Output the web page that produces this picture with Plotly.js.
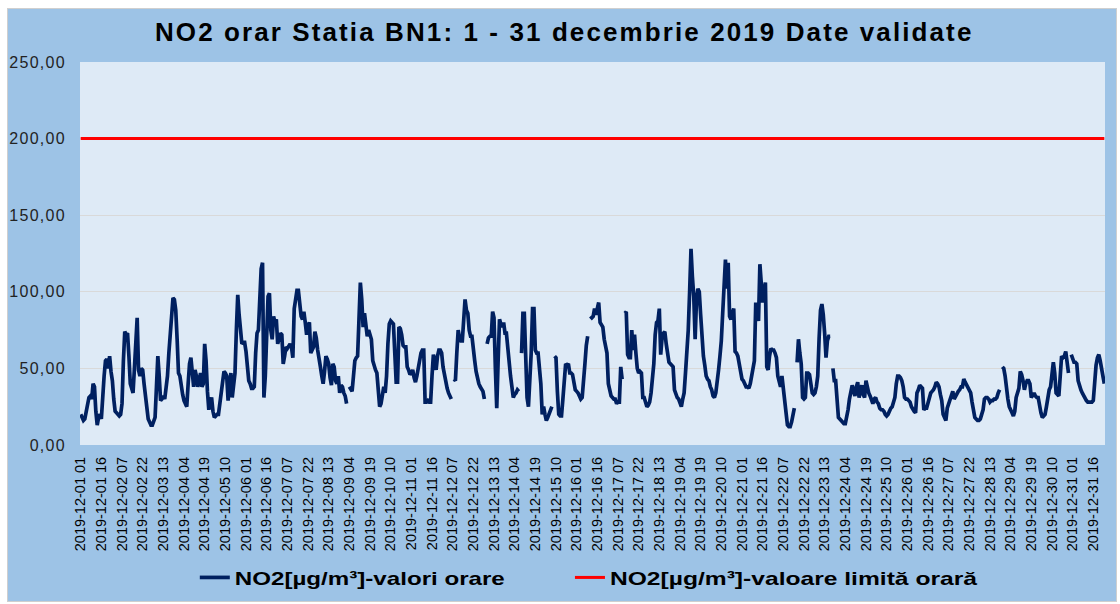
<!DOCTYPE html>
<html><head><meta charset="utf-8">
<script src="https://cdn.plot.ly/plotly-3.0.1.min.js"></script>
<style>
html,body{margin:0;padding:0;background:#fff;width:1120px;height:604px;overflow:hidden}
#chart{position:absolute;left:7px;top:8px;width:1110px;height:594px;border:1px solid #cfcfcf;box-sizing:border-box}
#chart .gtitle{letter-spacing:2.1px}
#chart .ytick text{letter-spacing:1.3px}
</style></head><body><div id="chart"></div>
<script>
// Hourly NO2 values, µg/m³ (null = missing hour)
const dec01 = [20,18,16,17,22,28,31,32,30,40,38,22,13,18,20,17,37,45,55,56,50,58,48,42];
const dec02 = [30,22,21,20,19,20,27,55,74,72,73,58,40,37,34,50,71,83,49,45,50,49,40,31];
const dec03 = [24,17,15,13,13,15,18,38,58,45,29,30,32,30,36,45,60,75,90,96,95,88,69,47];
const dec04 = [45,36,33,29,27,25,40,53,57,48,38,49,45,38,42,47,38,40,66,55,35,23,28,31];
const dec05 = [22,18,19,20,20,27,34,42,48,47,45,29,40,47,31,40,47,75,98,85,73,66,67,67];
const dec06 = [61,52,42,40,37,37,38,60,73,75,100,115,119,31,45,70,97,99,75,69,84,80,82,66];
const dec07 = [70,73,72,53,58,64,63,65,66,64,57,89,95,101,101,90,84,82,87,80,72,78,80,60];
const dec08 = [62,64,74,70,62,54,51,45,40,48,58,56,53,44,39,53,51,42,40,45,34,39,38,34];
const dec09 = [32,27,null,38,36,35,45,55,57,58,82,106,95,77,86,80,71,75,72,69,55,51,49,47];
const dec10 = [38,25,27,33,38,34,45,66,79,81,80,79,60,41,41,77,76,72,65,64,64,51,49,46];
const dec11 = [47,49,44,41,45,49,55,60,62,62,28,28,29,28,28,45,59,55,49,58,62,62,60,51];
const dec12 = [45,40,37,34,32,30,null,43,42,60,75,70,68,68,85,95,88,86,75,71,71,65,55,48];
const dec13 = [42,40,38,36,35,30,null,66,70,71,71,87,83,50,24,55,82,79,77,80,73,73,62,55];
const dec14 = [45,38,31,33,34,36,35,null,60,86,86,60,31,25,40,60,89,89,62,60,60,48,40,20];
const dec15 = [25,20,16,18,21,23,25,null,58,57,35,20,19,19,30,42,53,52,53,47,47,46,40,36];
const dec16 = [35,34,32,30,31,40,53,65,71,null,84,83,84,89,85,88,93,80,78,77,69,65,60,40];
const dec17 = [34,32,31,30,30,27,28,28,51,43,null,86,87,59,57,57,75,62,72,60,50,47,48,47];
const dec18 = [31,31,28,25,26,28,34,44,53,72,80,81,89,59,70,73,74,66,57,54,53,52,51,36];
const dec19 = [33,31,30,28,25,30,34,47,60,75,100,128,110,97,69,95,102,100,85,69,58,52,45,43];
const dec20 = [42,38,36,32,31,34,40,49,58,68,86,105,121,102,119,84,82,86,89,61,60,58,52,49];
const dec21 = [43,42,40,38,38,37,40,45,50,55,93,88,81,118,105,93,100,106,51,49,58,63,62,62];
const dec22 = [60,57,45,41,38,45,38,28,20,13,12,12,15,21,24,null,54,69,60,53,31,30,31,47];
const dec23 = [47,46,40,34,33,34,38,45,70,88,92,85,73,57,68,71,71,null,50,42,42,25,18,17];
const dec24 = [16,15,14,14,18,23,30,34,39,35,32,38,41,31,35,39,33,31,42,36,34,32,29,27];
const dec25 = [30,31,28,27,24,23,23,22,20,19,20,23,24,25,28,31,40,45,45,44,42,38,31,30];
const dec26 = [30,29,28,25,23,22,21,34,36,39,38,37,23,24,24,28,31,34,35,36,38,41,40,38];
const dec27 = [33,29,20,17,16,24,27,31,33,35,30,32,34,35,36,38,38,43,41,39,37,36,34,28];
const dec28 = [23,18,17,16,16,17,20,23,30,31,31,30,28,29,29,30,30,31,34,36,null,51,50,45];
const dec29 = [36,30,25,22,21,19,22,31,34,37,48,46,42,36,40,42,42,40,31,33,34,32,31,31];
const dec30 = [24,21,18,19,20,25,32,36,38,49,54,47,34,33,32,45,58,57,58,61,55,47,null,59];
const dec31 = [56,54,54,53,42,38,36,34,32,30,29,28,28,28,28,29,45,52,57,59,55,51,45,40];

const limitValue = 200;   // NO2 hourly limit value
const labelStep = 15;     // one x label every 15 hours
const seriesNames = ['NO2[µg/m³]-valori orare', 'NO2[µg/m³]-valoare limită orară'];

const days = [dec01,dec02,dec03,dec04,dec05,dec06,dec07,dec08,dec09,dec10,dec11,dec12,dec13,dec14,dec15,dec16,
              dec17,dec18,dec19,dec20,dec21,dec22,dec23,dec24,dec25,dec26,dec27,dec28,dec29,dec30,dec31];

const categories = [];
const values = [];
days.forEach((arr, d) => {
  const dd = String(d + 1).padStart(2, '0');
  arr.forEach((v, h) => {
    categories.push('2019-12-' + dd + ' ' + String(h + 1).padStart(2, '0'));
    values.push(v);
  });
});
const tickLabels = categories.filter((c, i) => i % labelStep === 0);

const FONT = 'Liberation Sans, Arial, sans-serif';
const legendFont = {family: FONT, size: 18.5, weight: 'bold', color: '#000'};

const traces = [
  {
    name: seriesNames[0],
    x: categories, y: values, type: 'scatter', mode: 'lines',
    connectgaps: false,
    line: {color: '#002060', width: 3.7},
    legend: 'legend'
  },
  {
    name: seriesNames[1],
    x: [categories[0], categories[categories.length - 1]],
    y: [limitValue, limitValue], type: 'scatter', mode: 'lines',
    line: {color: '#FF0000', width: 3},
    legend: 'legend2'
  }
];

const layout = {
  width: 1108, height: 592,
  margin: {l: 72, r: 11, t: 53, b: 156, autoexpand: false},
  paper_bgcolor: '#9DC3E6',
  plot_bgcolor: '#DEEAF6',
  separators: ',.',
  font: {family: FONT, color: '#000'},
  title: {
    text: 'NO2 orar Statia BN1: 1 - 31 decembrie 2019 Date validate',
    font: {family: FONT, size: 26, weight: 'bold', color: '#000'},
    xref: 'container', x: 0.502, xanchor: 'center',
    yref: 'container', y: 0.961, yanchor: 'middle'
  },
  xaxis: {
    type: 'category',
    range: [-0.5, categories.length - 0.5],
    tickmode: 'array', tickvals: tickLabels, ticktext: tickLabels,
    tickangle: -90,
    tickfont: {family: FONT, size: 14.5, color: '#000'},
    showgrid: false, zeroline: false, showline: false, ticks: '',
    ticklabelstandoff: 8,
    fixedrange: true
  },
  yaxis: {
    range: [0, 250], dtick: 50, tickformat: '.2f',
    tickfont: {family: FONT, size: 16, color: '#222'},
    gridcolor: '#D9D9D9', gridwidth: 1,
    zeroline: false, showline: false, ticks: '',
    ticklabelstandoff: 13,
    fixedrange: true
  },
  showlegend: true,
  legend: {
    orientation: 'h',
    x: 0.112, xanchor: 'left',
    y: -0.347, yanchor: 'middle',
    font: legendFont,
    bgcolor: 'rgba(0,0,0,0)'
  },
  legend2: {
    orientation: 'h',
    x: 0.478, xanchor: 'left',
    y: -0.347, yanchor: 'middle',
    font: legendFont,
    bgcolor: 'rgba(0,0,0,0)'
  }
};

const gd = document.getElementById('chart');
// the reference's legend text is horizontally stretched: widths in px
const legendTextWidth = {};
legendTextWidth[seriesNames[0]] = 270;
legendTextWidth[seriesNames[1]] = 367;
function widenLegends() {
  gd.querySelectorAll('text').forEach(el => {
    const w = legendTextWidth[el.textContent];
    if (w) {
      el.setAttribute('textLength', w);
      el.setAttribute('lengthAdjust', 'spacingAndGlyphs');
    }
  });
  gd.querySelectorAll('.infolayer .scrollbox').forEach(el => el.removeAttribute('clip-path'));
}
Plotly.newPlot(gd, traces, layout, {staticPlot: true, displayModeBar: false}).then(() => {
  widenLegends();
  gd.on('plotly_afterplot', widenLegends);
  requestAnimationFrame(widenLegends);
  setTimeout(widenLegends, 50);
});
</script></body></html>
